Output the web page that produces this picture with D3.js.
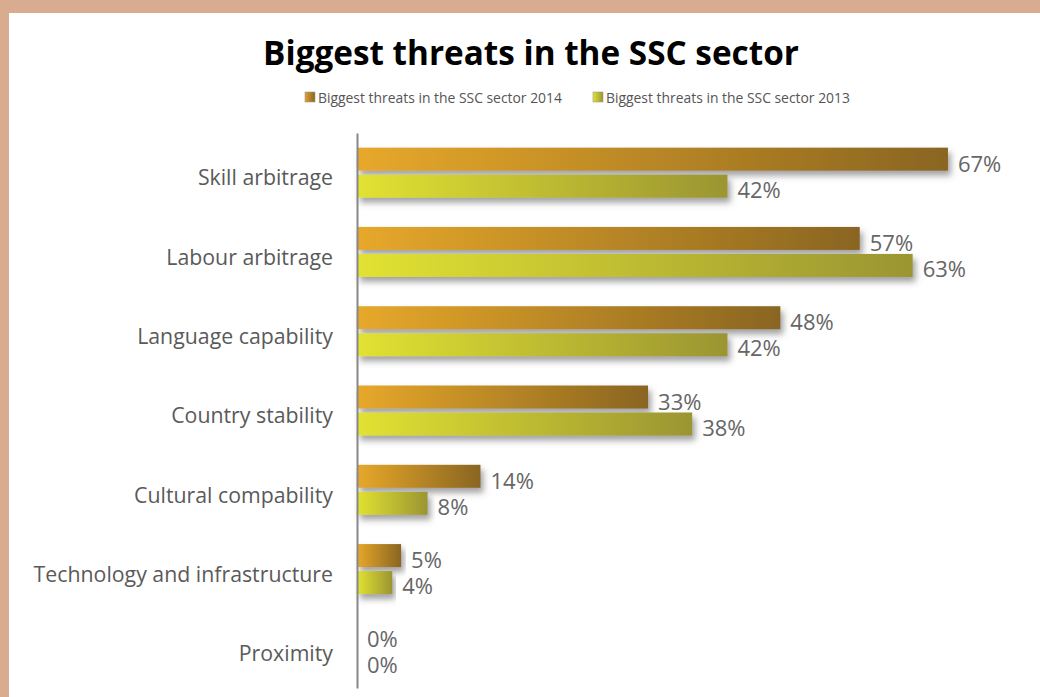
<!DOCTYPE html>
<html>
<head>
<meta charset="utf-8">
<script src="https://cdn.jsdelivr.net/npm/d3@7"></script>
<style>
  html, body { margin: 0; padding: 0; background: #d9ac8f; }
  svg { display: block; }
</style>
</head>
<body>
<svg id="chart"></svg>
<script>
const categories = [
  "Skill arbitrage",
  "Labour arbitrage",
  "Language capability",
  "Country stability",
  "Cultural compability",
  "Technology and infrastructure",
  "Proximity"
];
const values2014 = [67, 57, 48, 33, 14, 5, 0];
const values2013 = [42, 63, 42, 38, 8, 4, 0];
const seriesNames = [
  "Biggest threats in the SSC sector 2014",
  "Biggest threats in the SSC sector 2013"
];

const width = 1040, height = 697;
const svg = d3.select("#chart").attr("width", width).attr("height", height);

// tan frame, white panel
svg.append("rect").attr("width", width).attr("height", height).attr("fill", "#d9ac8f");
svg.append("rect").attr("x", 9).attr("y", 13)
  .attr("width", width - 9).attr("height", height - 13).attr("fill", "#fff");

const defs = svg.append("defs");
function grad(id, c1, c2) {
  const g = defs.append("linearGradient").attr("id", id)
    .attr("x1", "0%").attr("x2", "100%").attr("y1", "0%").attr("y2", "0%");
  g.append("stop").attr("offset", "0%").attr("stop-color", c1);
  g.append("stop").attr("offset", "100%").attr("stop-color", c2);
}
grad("g2014", "#e7a82a", "#8a6521");
grad("g2013", "#e1e233", "#9b9533");
grad("l2014", "#e0a030", "#8a6521");
grad("l2013", "#e1e233", "#9b9533");

const shadow = defs.append("filter").attr("id", "shadow")
  .attr("x", "-5%").attr("y", "-30%").attr("width", "115%").attr("height", "190%");
shadow.append("feDropShadow")
  .attr("dx", 3).attr("dy", 5).attr("stdDeviation", 3)
  .attr("flood-color", "#555").attr("flood-opacity", 0.55);

// title
svg.append("text")
  .attr("x", 531).attr("y", 65)
  .attr("text-anchor", "middle")
  .attr("font-family", "Open Sans, sans-serif")
  .attr("font-weight", "bold")
  .attr("font-size", 33.3)
  .attr("fill", "#000")
  .text("Biggest threats in the SSC sector");

// legend
const legendX = [305, 593];
seriesNames.forEach((name, i) => {
  const g = svg.append("g").attr("transform", `translate(${legendX[i]},92)`);
  g.append("rect").attr("width", 10).attr("height", 10)
    .attr("fill", `url(#l${i === 0 ? 2014 : 2013})`)
    .attr("stroke", "#999").attr("stroke-width", 0.6);
  g.append("text").attr("x", 13).attr("y", 11)
    .attr("font-family", "Open Sans, sans-serif")
    .attr("font-size", 13.9)
    .attr("fill", "#555")
    .text(name);
});

const x0 = 357;
const x = d3.scaleLinear().domain([0, 100]).range([x0, x0 + 882]);
const y = d3.scaleBand().domain(categories).range([133, 688]);

const barH = 23;

const rows = categories.map((c, i) => ({ cat: c, v14: values2014[i], v13: values2013[i] }));

const bars = svg.append("g");
bars.selectAll("rect.b14").data(rows.filter(d => d.v14 > 0)).join("rect")
  .attr("class", "b14")
  .attr("x", x(0))
  .attr("y", d => y(d.cat) + y.bandwidth() / 2 - 25)
  .attr("width", d => x(d.v14) - x(0))
  .attr("height", barH)
  .attr("fill", "url(#g2014)")
  .attr("filter", "url(#shadow)");

bars.selectAll("rect.b13").data(rows.filter(d => d.v13 > 0)).join("rect")
  .attr("class", "b13")
  .attr("x", x(0))
  .attr("y", d => y(d.cat) + y.bandwidth() / 2 + 2)
  .attr("width", d => x(d.v13) - x(0))
  .attr("height", barH)
  .attr("fill", "url(#g2013)")
  .attr("filter", "url(#shadow)");

// value labels
const labelFont = "Open Sans, sans-serif";
svg.append("g").selectAll("text").data(rows).join("text")
  .attr("x", d => x(d.v14) + 10)
  .attr("y", d => y(d.cat) + y.bandwidth() / 2 - 1)
  .attr("font-family", labelFont)
  .attr("font-size", 22)
  .attr("fill", "#666")
  .text(d => d.v14 + "%");

svg.append("g").selectAll("text").data(rows).join("text")
  .attr("x", d => x(d.v13) + 10)
  .attr("y", d => y(d.cat) + y.bandwidth() / 2 + 25)
  .attr("font-family", labelFont)
  .attr("font-size", 22)
  .attr("fill", "#666")
  .text(d => d.v13 + "%");

// axis
const axis = svg.append("g")
  .attr("transform", `translate(${x0},0)`)
  .call(d3.axisLeft(y).tickSize(0).tickPadding(24));
axis.select(".domain").attr("stroke", "#888").attr("stroke-width", 2);
axis.selectAll("text")
  .attr("font-family", labelFont)
  .attr("font-size", 21.3)
  .attr("fill", "#5a5a5a")
  .attr("dy", "0.6em");
</script>
</body>
</html>
